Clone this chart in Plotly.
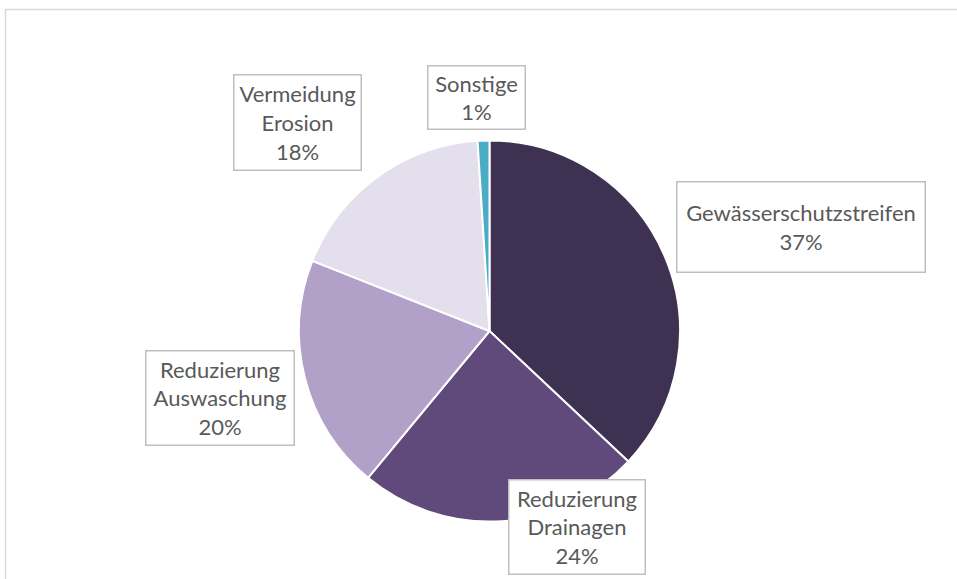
import plotly.graph_objects as go

categories = ["Gewässerschutzstreifen", "Reduzierung Drainagen", "Reduzierung Auswaschung",
              "Vermeidung Erosion", "Sonstige"]
display_labels = ["Gewässerschutzstreifen", "Reduzierung<br>Drainagen", "Reduzierung<br>Auswaschung",
                  "Vermeidung<br>Erosion", "Sonstige"]
values = [37, 24, 20, 18, 1]
colors = ["#3f3151", "#604a7b", "#b1a0c7", "#e4dfec", "#4bacc6"]

W, H = 957, 579
cx, cy, r = 489.5, 331, 190.5

# label box centers and sizes (px)
label_boxes = [
    (801, 227, 250, 92),
    (577, 527, 138, 96),
    (220, 398, 150, 96),
    (297, 123, 129, 97),
    (476, 98, 99, 65),
]

fig = go.Figure(go.Pie(
    labels=categories,
    values=values,
    sort=False,
    direction="clockwise",
    rotation=0,
    marker=dict(colors=colors, line=dict(color="white", width=2)),
    textinfo="none",
    hoverinfo="label+percent",
    domain=dict(x=[(cx - r) / W, (cx + r) / W], y=[1 - (cy + r) / H, 1 - (cy - r) / H]),
    showlegend=False,
))

for lab, v, (bx, by, bw, bh) in zip(display_labels, values, label_boxes):
    fig.add_annotation(
        x=bx / W, y=1 - by / H, xref="paper", yref="paper",
        xanchor="center", yanchor="middle",
        text=f"{lab}<br>{v}%", showarrow=False,
        font=dict(family="Lato", size=22, color="#595959"),
        bordercolor="#bfbfbf", borderwidth=1.5, borderpad=0,
        bgcolor="white",
        width=bw - 3, height=bh - 3, align="center",
    )

fig.add_shape(type="rect", xref="paper", yref="paper",
              x0=5.5 / W, x1=1.02, y0=-0.02, y1=1 - 9.5 / H,
              line=dict(color="#d9d9d9", width=1.5), layer="below")

fig.update_layout(
    width=W, height=H,
    margin=dict(l=0, r=0, t=0, b=0),
    paper_bgcolor="white",
    plot_bgcolor="white",
)

fig.write_html("out.html", config={"displayModeBar": False},
               post_script="document.body.style.margin='0';document.body.style.overflow='hidden';")
